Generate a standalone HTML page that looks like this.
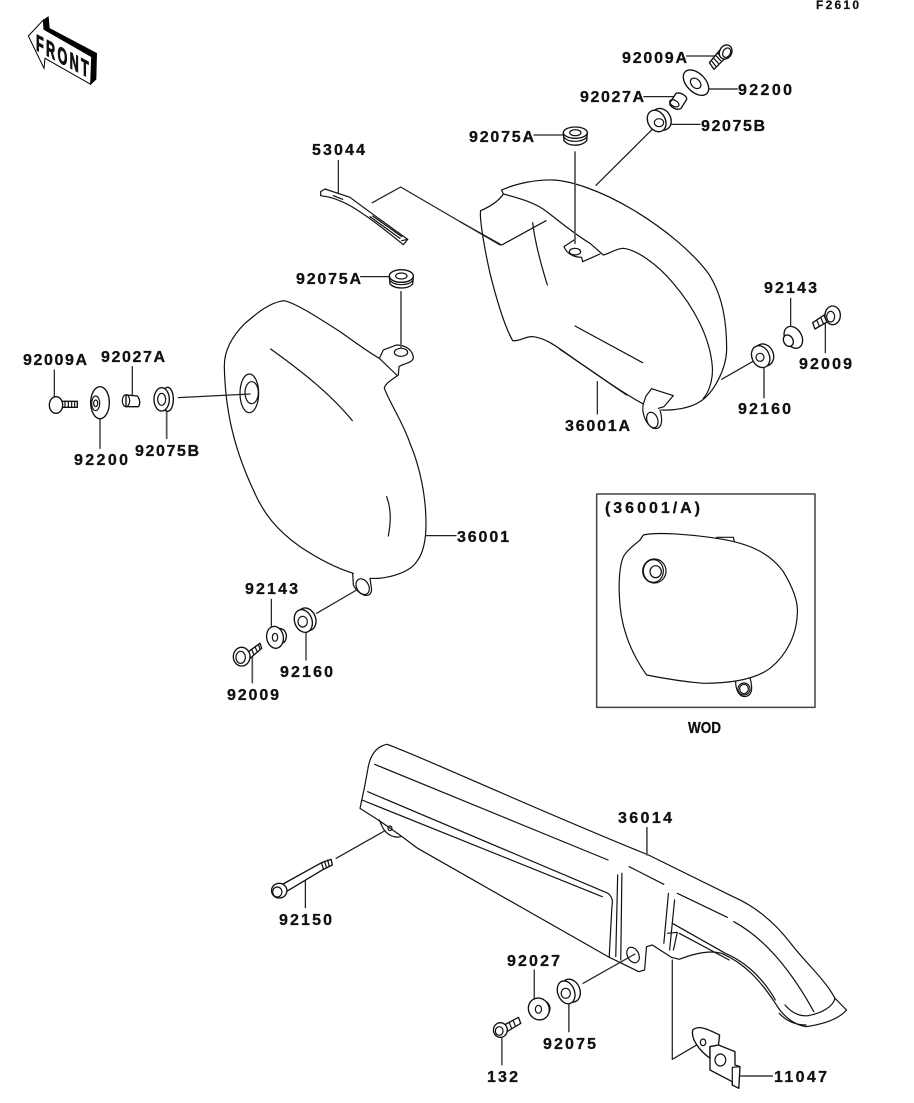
<!DOCTYPE html>
<html><head><meta charset="utf-8"><style>
html,body{margin:0;padding:0;background:#fff}
svg{display:block}
.d *{vector-effect:non-scaling-stroke;fill:none;stroke:#111;stroke-width:1.2;stroke-linejoin:round;stroke-linecap:round}
.d .w{fill:#fff;stroke-width:1.35}
.d .l{stroke:#222;stroke-width:1.25}
.d .g{stroke:#555;stroke-width:1.7}
text{font-family:"Liberation Sans",sans-serif;font-weight:700;font-size:16px;fill:#111;stroke:#111;stroke-width:.3}
</style></head><body>
<svg width="914" height="1103" viewBox="0 0 914 1103" xmlns="http://www.w3.org/2000/svg">

<!-- FRONT arrow -->
<g transform="scale(.3333)">
<path d="M130,60 L145,50 L148,85 L290,160 L288,238 L272,253 L275,170 L132,90Z" fill="#000" stroke="#000" stroke-width="2"/>
<path d="M85,108 L130,60 L132,88 L275,170 L272,253 L135,175 L132,205Z" fill="#fff" stroke="#000" stroke-width="3"/>
</g>
<text transform="matrix(.55,.29,0,1,36,50)" style="font-size:23px;stroke-width:1" textLength="96" lengthAdjust="spacing">FRONT</text>
<text x="816" y="9" style="font-size:12px;stroke-width:.2" textLength="43" lengthAdjust="spacing">F2610</text>

<!-- Right panel -->
<g class="d" transform="translate(460,30) scale(.33333)">
<path d="M125,480 C170,460 230,448 280,450 C330,452 420,480 520,540 C620,600 700,670 745,730 C790,800 800,880 800,960 C798,1020 760,1090 720,1115 C690,1135 640,1142 605,1140"/>
<path d="M125,480 L130,492 C180,505 230,520 260,545 C300,575 340,610 390,640 L430,675 C450,670 470,655 490,655 C530,660 590,700 640,760 C700,830 750,920 757,1010 C760,1050 745,1090 730,1105"/>
<path d="M130,492 C115,515 90,530 62,542 C58,560 70,640 90,730 C115,830 140,900 158,932 C180,935 195,918 220,920 C260,925 290,950 340,985 C420,1040 490,1090 550,1122"/>
<path d="M300,958 C370,1005 440,1055 500,1095"/>
<path d="M345,628 L312,650 C320,670 340,682 365,682 L368,695 L420,672"/>
<ellipse cx="345" cy="665" rx="17" ry="10"/>
<path d="M550,1122 L558,1098 L575,1076 L640,1097 L612,1130 L595,1135"/>
<path d="M550,1122 C545,1140 552,1180 580,1195 C605,1200 610,1175 600,1140"/>
<ellipse cx="577" cy="1170" rx="16" ry="24" transform="rotate(-20 577 1170)"/>
<path d="M218,578 C225,640 245,710 262,765"/>
<path d="M345,888 L548,998"/>
<path d="M0,575 L125,645 L258,572"/>
<path class="g" d="M345,366 L345,640"/>
<path class="l" d="M408,466 L585,290"/>
<path class="l" d="M680,78 L770,78"/>
<path class="g" d="M748,177 L832,177"/>
<path class="l" d="M552,200 L640,200"/>
<path class="l" d="M630,283 L720,283"/>
<path class="l" d="M222,315 L310,315"/>
<path class="l" d="M992,805 L992,890"/>
<path class="l" d="M1096,860 L1096,968"/>
<path class="l" d="M785,1048 L895,985"/>
<path class="g" d="M912,1010 L912,1103"/>
<path class="l" d="M412,1055 L412,1152"/>
<!-- 92009A -->
<path class="w" d="M778,62 L748,98 L762,118 L795,85Z"/>
<path d="M754,92 L768,109 M760,84 L775,100 M767,76 L782,92 M773,70 L788,86"/>
<ellipse class="w" cx="797" cy="66" rx="18" ry="22" transform="rotate(30 797 66)"/>
<ellipse cx="800" cy="68" rx="11" ry="15" transform="rotate(30 800 68)"/>
<!-- 92200 -->
<ellipse class="w" cx="708" cy="158" rx="28" ry="46" transform="rotate(-45 708 158)"/>
<ellipse cx="707" cy="160" rx="13" ry="18" transform="rotate(-45 707 160)"/>
<!-- 92027A -->
<path class="w" d="M648,190 C660,185 682,198 680,208 L664,234 C655,245 625,230 630,218Z"/>
<ellipse cx="643" cy="220" rx="9" ry="15" transform="rotate(-60 643 220)"/>
<!-- 92075B -->
<ellipse class="w" cx="604" cy="268" rx="28" ry="34" transform="rotate(-30 604 268)"/>
<ellipse class="w" cx="590" cy="273" rx="26" ry="34" transform="rotate(-30 590 273)"/>
<ellipse cx="597" cy="278" rx="14" ry="12"/>
<!-- 92075A -->
<path class="w" d="M310,308 L312,332 C325,350 365,350 380,332 L382,308Z"/>
<path d="M312,322 C325,338 365,338 380,322"/>
<ellipse class="w" cx="346" cy="308" rx="36" ry="17"/>
<ellipse cx="346" cy="308" rx="17" ry="9"/>
<!-- 92143 -->
<ellipse class="w" cx="1000" cy="922" rx="25" ry="35" transform="rotate(-30 1000 922)"/>
<ellipse class="w" cx="985" cy="932" rx="14" ry="18" transform="rotate(-30 985 932)"/>
<!-- 92009 -->
<path class="w" d="M1100,850 L1058,878 L1065,897 L1108,872Z"/>
<path d="M1070,870 L1078,888 M1082,862 L1090,880 M1092,856 L1100,874"/>
<ellipse class="w" cx="1118" cy="856" rx="23" ry="28"/>
<ellipse cx="1112" cy="860" rx="12" ry="16"/>
<!-- 92160 -->
<ellipse class="w" cx="912" cy="975" rx="28" ry="34" transform="rotate(-25 912 975)"/>
<ellipse class="w" cx="902" cy="980" rx="26" ry="34" transform="rotate(-25 902 980)"/>
<ellipse cx="900" cy="982" rx="12" ry="12"/>
</g>

<!-- strip 53044 -->
<g class="d" transform="translate(300,140) scale(.33333)">
<path d="M62,155 L75,147 L150,172 C200,210 270,260 323,298 L310,314 C250,265 190,220 150,197 C120,180 90,170 62,167Z"/>
<path d="M305,302 L323,298"/>
<path d="M100,167 L128,178 M210,230 L300,295 M218,228 L305,290"/>
<path class="l" d="M115,62 L115,158"/>
<path class="l" d="M217,188 L302,141 L600,315"/>
</g>

<!-- Left panel -->
<g class="d" transform="translate(0,260) scale(.33333)">
<path d="M850,122 C800,130 760,170 735,190 C700,225 672,270 673,320 C675,420 690,540 760,690 C790,760 830,810 900,860 C960,900 1010,925 1060,940"/>
<path d="M1110,955 C1170,958 1230,935 1250,905 C1270,880 1278,840 1278,790 C1278,710 1260,620 1230,550 C1210,490 1170,430 1153,385 C1155,370 1175,360 1195,345 L1197,320"/>
<path d="M850,122 C880,125 950,170 1020,215 C1070,250 1110,280 1138,295 L1190,345"/>
<path d="M1138,295 L1150,270 L1190,255 C1215,255 1240,270 1240,295 C1235,310 1210,310 1197,320"/>
<ellipse cx="1203" cy="277" rx="20" ry="12"/>
<ellipse cx="748" cy="400" rx="28" ry="58"/>
<ellipse cx="755" cy="398" rx="20" ry="33"/>
<path d="M812,267 C900,330 990,400 1057,482"/>
<path d="M1160,710 C1175,750 1172,790 1165,828"/>
<path d="M1058,940 L1060,975 C1075,1005 1110,1020 1115,990 L1110,955"/>
<ellipse cx="1088" cy="980" rx="18" ry="25" transform="rotate(-30 1088 980)"/>
<path class="g" d="M1203,95 L1203,265"/>
<path class="l" d="M1082,50 L1165,50"/>
<path class="l" d="M535,413 L750,402"/>
<path class="l" d="M163,330 L163,412"/>
<path class="l" d="M397,320 L397,405"/>
<path class="l" d="M300,478 L300,565"/>
<path class="g" d="M500,420 L500,535"/>
<path class="l" d="M1278,827 L1368,827"/>
<path class="l" d="M814,1018 L814,1102"/>
<path class="l" d="M950,1060 L1070,990"/>
<path class="l" d="M918,1115 L918,1200"/>
<path class="g" d="M757,1170 L757,1268"/>
<!-- 92075A -->
<path class="w" d="M1168,50 L1170,72 C1185,88 1225,88 1238,72 L1240,50Z"/>
<path d="M1170,62 C1185,78 1225,78 1238,62"/>
<ellipse class="w" cx="1204" cy="48" rx="36" ry="19"/>
<ellipse cx="1204" cy="48" rx="17" ry="9"/>
<!-- 92009A -->
<path class="w" d="M180,424 L232,424 L232,442 L180,442Z"/>
<path d="M195,424 V442 M205,424 V442 M215,424 V442 M224,424 V442"/>
<ellipse class="w" cx="168" cy="435" rx="20" ry="25"/>
<!-- 92200 -->
<ellipse class="w" cx="300" cy="428" rx="28" ry="48"/>
<ellipse cx="287" cy="430" rx="12" ry="22"/>
<ellipse cx="287" cy="430" rx="6" ry="10"/>
<!-- 92027A -->
<path class="w" d="M378,405 L412,408 C422,420 420,435 415,440 L378,440Z"/>
<ellipse cx="378" cy="422" rx="11" ry="18"/>
<!-- 92075B -->
<ellipse class="w" cx="503" cy="418" rx="17" ry="36"/>
<ellipse class="w" cx="485" cy="418" rx="23" ry="35"/>
<ellipse cx="485" cy="418" rx="12" ry="18"/>
<!-- 92143 -->
<path class="w" d="M835,1105 C860,1105 865,1130 852,1148 L830,1130Z"/>
<ellipse class="w" cx="825" cy="1132" rx="25" ry="33" transform="rotate(-10 825 1132)"/>
<ellipse cx="825" cy="1132" rx="8" ry="12"/>
<!-- 92009 -->
<path class="w" d="M745,1175 L780,1150 L785,1165 L750,1195Z"/>
<path d="M755,1168 L762,1184 M765,1160 L772,1176 M775,1153 L780,1168"/>
<ellipse class="w" cx="725" cy="1190" rx="25" ry="28"/>
<ellipse cx="722" cy="1192" rx="14" ry="18"/>
<!-- 92160 -->
<ellipse class="w" cx="920" cy="1078" rx="27" ry="35" transform="rotate(-20 920 1078)"/>
<ellipse class="w" cx="910" cy="1083" rx="26" ry="35" transform="rotate(-20 910 1083)"/>
<ellipse cx="908" cy="1085" rx="14" ry="16"/>
</g>

<!-- Inset -->
<g class="d" transform="translate(590,485) scale(.33333)">
<rect x="20" y="27" width="655" height="640" style="stroke:#444;stroke-width:1.5"/>
<path d="M160,150 C200,140 300,148 380,160 C480,175 540,205 580,260 C610,310 625,350 622,385 C620,450 590,510 540,550 C500,580 430,595 340,595 C280,590 220,580 170,570 C120,500 90,420 88,330 C86,280 90,240 100,215 C115,190 140,175 150,165Z"/>
<path d="M380,157 L430,157 L433,170"/>
<ellipse cx="193" cy="258" rx="35" ry="36"/>
<ellipse cx="190" cy="258" rx="30" ry="34"/>
<ellipse cx="197" cy="260" rx="17" ry="18"/>
<path d="M437,590 C437,620 450,635 465,635 C485,632 490,615 480,578"/>
<ellipse cx="462" cy="612" rx="18" ry="18"/>
<ellipse cx="462" cy="612" rx="13" ry="14"/>
</g>

<!-- Chain guard -->
<g class="d" transform="translate(260,730) scale(.3846,.33333)">
<path d="M330,43 C300,50 285,80 280,120 L272,170 L260,235 L305,268 L360,312 L410,355 L905,680 L985,725 L1000,720 L1005,650 L1020,645 L1070,682 L1090,688 C1130,670 1170,660 1200,670 C1260,700 1300,750 1340,820 C1360,860 1390,885 1420,890 C1480,880 1510,860 1525,840 L1495,805 C1470,750 1420,700 1380,640 C1340,580 1290,530 1230,500 L1010,375 C700,230 400,70 330,43Z"/>
<path d="M298,103 L905,390 M960,410 L1050,463 M1085,490 L1215,562"/>
<path d="M1232,575 C1320,630 1390,740 1440,845"/>
<path d="M280,185 L905,490 C915,500 918,510 915,530 L908,680"/>
<path d="M265,210 L890,500"/>
<path d="M930,435 L925,680 M941,430 L938,690"/>
<path d="M1062,490 L1050,640 M1078,510 L1065,660"/>
<path d="M1072,580 L1210,670 C1270,700 1310,750 1340,810"/>
<path d="M1090,610 L1220,690"/>
<path d="M1060,610 L1085,607 L1075,660"/>
<path d="M1495,805 C1490,830 1460,850 1425,857"/>
<path d="M1365,825 C1380,845 1400,860 1425,857"/>
<path d="M1350,850 C1370,875 1395,885 1420,885"/>
<path d="M310,270 L320,295 C330,315 350,325 365,320"/>
<ellipse cx="338" cy="295" rx="5" ry="7"/>
<ellipse cx="970" cy="675" rx="15" ry="24" transform="rotate(-20 970 675)"/>
<path class="l" d="M198,385 L325,302"/>
<path class="l" d="M118,450 L118,533"/>
<path class="g" d="M1006,293 L1006,375"/>
<path class="l" d="M840,760 L975,672"/>
<path class="l" d="M713,720 L713,805"/>
<path class="g" d="M803,820 L803,905"/>
<path class="l" d="M629,922 L629,1005"/>
<path class="l" d="M1072,690 L1072,988 L1150,935"/>
<path class="g" d="M1250,1038 L1332,1038"/>
<!-- 92150 -->
<path class="w" d="M60,462 L160,398 L185,388 L188,405 L165,418 L68,485Z"/>
<path d="M160,398 L165,418 M168,394 L173,413 M176,390 L180,409"/>
<ellipse class="w" cx="50" cy="482" rx="20" ry="22"/>
<ellipse cx="45" cy="486" rx="12" ry="15"/>
<!-- 92027 -->
<path class="w" d="M725,808 C750,810 760,830 750,850 L730,840Z"/>
<ellipse class="w" cx="725" cy="837" rx="27" ry="33" transform="rotate(-10 725 837)"/>
<ellipse cx="724" cy="838" rx="8" ry="12"/>
<!-- 92075 -->
<ellipse class="w" cx="808" cy="782" rx="24" ry="35" transform="rotate(-15 808 782)"/>
<ellipse class="w" cx="796" cy="787" rx="22" ry="35" transform="rotate(-15 796 787)"/>
<ellipse cx="795" cy="790" rx="12" ry="15"/>
<!-- 132 -->
<path class="w" d="M635,885 L672,862 L678,880 L642,905Z"/>
<path d="M648,877 L654,895 M658,871 L664,888"/>
<ellipse class="w" cx="625" cy="900" rx="18" ry="22"/>
<ellipse cx="622" cy="903" rx="10" ry="13"/>
<!-- 11047 -->
<path class="w" d="M1125,900 C1140,885 1160,895 1195,915 L1192,945 L1170,950 L1170,985 C1140,960 1120,925 1125,900Z"/>
<ellipse cx="1152" cy="937" rx="7" ry="10"/>
<path class="w" d="M1170,950 L1192,945 L1235,965 L1235,1005 L1248,1010 L1245,1075 L1228,1065 L1228,1055 L1170,1020Z"/>
<path d="M1228,1012 L1248,1010 M1228,1012 L1228,1065"/>
<ellipse cx="1197" cy="990" rx="14" ry="18"/>
</g>

<!-- Labels -->
<text x="622" y="63" textLength="65" lengthAdjust="spacing">92009A</text>
<text x="738" y="95" textLength="54" lengthAdjust="spacing">92200</text>
<text x="580" y="102" textLength="64" lengthAdjust="spacing">92027A</text>
<text x="701" y="131" textLength="64" lengthAdjust="spacing">92075B</text>
<text x="469" y="142" textLength="65" lengthAdjust="spacing">92075A</text>
<text x="312" y="155" textLength="53" lengthAdjust="spacing">53044</text>
<text x="764" y="293" textLength="53" lengthAdjust="spacing">92143</text>
<text x="799" y="369" textLength="53" lengthAdjust="spacing">92009</text>
<text x="738" y="414" textLength="53" lengthAdjust="spacing">92160</text>
<text x="565" y="431" textLength="65" lengthAdjust="spacing">36001A</text>
<text x="296" y="284" textLength="65" lengthAdjust="spacing">92075A</text>
<text x="23" y="365" textLength="64" lengthAdjust="spacing">92009A</text>
<text x="101" y="362" textLength="64" lengthAdjust="spacing">92027A</text>
<text x="135" y="456" textLength="64" lengthAdjust="spacing">92075B</text>
<text x="74" y="465" textLength="54" lengthAdjust="spacing">92200</text>
<text x="457" y="542" textLength="52" lengthAdjust="spacing">36001</text>
<text x="245" y="594" textLength="53" lengthAdjust="spacing">92143</text>
<text x="280" y="677" textLength="53" lengthAdjust="spacing">92160</text>
<text x="227" y="700" textLength="52" lengthAdjust="spacing">92009</text>
<text x="605" y="513" textLength="95" lengthAdjust="spacing">(36001/A)</text>
<text x="688" y="733" textLength="33" lengthAdjust="spacingAndGlyphs">WOD</text>
<text x="618" y="823" textLength="54" lengthAdjust="spacing">36014</text>
<text x="279" y="925" textLength="53" lengthAdjust="spacing">92150</text>
<text x="507" y="966" textLength="53" lengthAdjust="spacing">92027</text>
<text x="543" y="1049" textLength="53" lengthAdjust="spacing">92075</text>
<text x="487" y="1082" textLength="31" lengthAdjust="spacing">132</text>
<text x="774" y="1082" textLength="53" lengthAdjust="spacing">11047</text>
</svg>
</body></html>
